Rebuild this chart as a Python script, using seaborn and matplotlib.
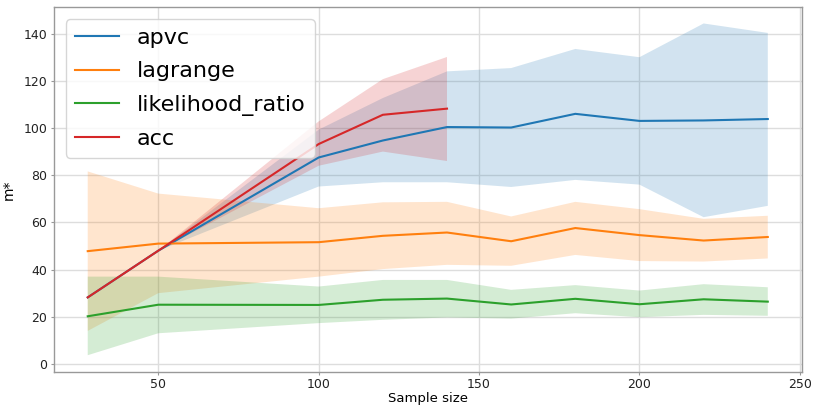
import matplotlib
matplotlib.use("Agg")
import matplotlib.pyplot as plt
import seaborn as sns
import pandas as pd

# ---- data ----
sample_sizes = [28, 50, 100, 120, 140, 160, 180, 200, 220, 240]
acc_sizes = [28, 50, 100, 120, 140]

apvc_mean = [28.2, 48, 87.5, 94.7, 100.4, 100.2, 106.0, 103.0, 103.2, 103.8]
apvc_lo = [28.2, 48, 75.2, 77.0, 77.0, 75.0, 78.0, 76.0, 62.2, 67.0]
apvc_hi = [28.2, 48, 99.3, 112.7, 124.0, 125.4, 133.5, 130.0, 144.3, 140.3]

lagrange_mean = [47.8, 51.0, 51.6, 54.3, 55.7, 52.0, 57.6, 54.6, 52.3, 53.8]
lagrange_lo = [14.0, 30.0, 37.0, 40.2, 42.0, 41.6, 46.2, 43.6, 43.4, 44.7]
lagrange_hi = [81.6, 72.2, 66.0, 68.5, 68.7, 62.5, 68.7, 65.6, 61.5, 62.8]

lr_mean = [20.2, 25.1, 25.0, 27.2, 27.7, 25.2, 27.6, 25.3, 27.4, 26.4]
lr_lo = [3.7, 13.0, 17.3, 18.7, 19.7, 19.2, 21.5, 19.8, 20.8, 20.4]
lr_hi = [37.0, 37.0, 32.8, 35.6, 35.6, 31.4, 33.4, 31.1, 33.8, 32.5]

acc_mean = [28.2, 48, 93.2, 105.6, 108.2]
acc_lo = [28.2, 48, 84.0, 90.0, 86.0]
acc_hi = [28.2, 48, 102.8, 120.7, 130.1]

methods = ["apvc", "lagrange", "likelihood_ratio", "acc"]
series = {
    "apvc": (sample_sizes, apvc_lo, apvc_mean, apvc_hi),
    "lagrange": (sample_sizes, lagrange_lo, lagrange_mean, lagrange_hi),
    "likelihood_ratio": (sample_sizes, lr_lo, lr_mean, lr_hi),
    "acc": (acc_sizes, acc_lo, acc_mean, acc_hi),
}

rows = []
for m in methods:
    xs, lo, mid, hi = series[m]
    for x, a, b, c in zip(xs, lo, mid, hi):
        for v in (a, b, c):
            rows.append({"Sample size": x, "m*": v, "method": m})
df = pd.DataFrame(rows)

plt.rcParams["font.family"] = ["DejaVu Sans"]

fig = plt.figure(figsize=(8.14, 4.05), dpi=100)
ax = fig.add_axes([0.066, 0.082, 0.919, 0.901])

sns.lineplot(data=df, x="Sample size", y="m*", hue="method",
             hue_order=methods, palette="tab10",
             estimator="median", errorbar=("pi", 100),
             err_kws={"linewidth": 0, "edgecolor": "none"},
             linewidth=1.5, ax=ax)

ax.grid(True, color="#dddddd", linewidth=1.0)
ax.set_axisbelow(True)
for s in ax.spines.values():
    s.set_color("#999999")
    s.set_linewidth(1.0)
ax.tick_params(colors="#999999", labelcolor="#222222", labelsize=9,
               length=2.5, pad=2)
ax.set_xlabel("Sample size", fontsize=9.5, labelpad=0.5)
ax.set_ylabel("m*", fontsize=10, labelpad=6)

ax.legend(loc="upper left", fontsize=16, labelspacing=0.6,
          borderaxespad=0.55)

fig.savefig("out.png", dpi=100)
